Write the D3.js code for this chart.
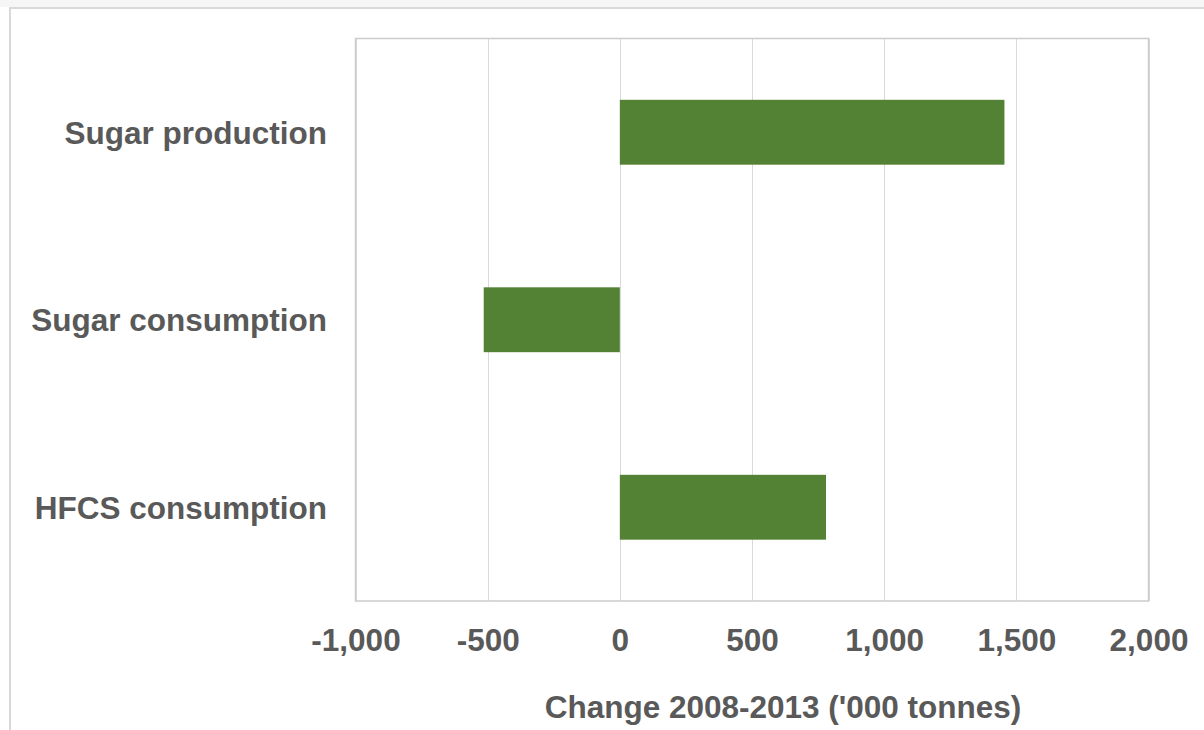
<!DOCTYPE html>
<html>
<head>
<meta charset="utf-8">
<script src="https://cdn.jsdelivr.net/npm/d3@7"></script>
<style>
  html, body { margin: 0; padding: 0; background: #fff; }
  svg { display: block; }
  text { font-family: "Liberation Sans", Arial, sans-serif; font-weight: bold; fill: #595959; }
</style>
</head>
<body>
<svg id="chart" width="1204" height="730"></svg>
<script>
// Change in sugar / HFCS volumes, 2008-2013, thousand tonnes
const categories = ["Sugar production", "Sugar consumption", "HFCS consumption"];
const changeValues = [1455, -515, 780];
const tickValues = [-1000, -500, 0, 500, 1000, 1500, 2000];
const axisTitle = "Change 2008-2013 ('000 tonnes)";

const svg = d3.select("#chart");
const W = 1204, H = 730;
const FONT_SIZE = 31.5;

// outer chart frame
svg.append("rect").attr("x", 0).attr("y", 0).attr("width", W).attr("height", 7).attr("fill", "#f6f6f6");
svg.append("path")
  .attr("d", `M10,${H} L10,8 L${W},8`)
  .attr("fill", "none").attr("stroke", "#d9d9d9").attr("stroke-width", 2);

const plot = { left: 355.5, right: 1148.5, top: 38.5, bottom: 601 };

const x = d3.scaleLinear().domain([-1000, 2000]).range([plot.left, plot.right]);
const y = d3.scaleBand().domain(categories).range([plot.top, plot.bottom])
  .paddingInner(0.654).paddingOuter(0.327);

// vertical gridlines
svg.append("g").selectAll("line").data(tickValues).join("line")
  .attr("x1", d => Math.round(x(d)) + 0.5).attr("x2", d => Math.round(x(d)) + 0.5)
  .attr("y1", plot.top).attr("y2", plot.bottom)
  .attr("stroke", "#d9d9d9").attr("stroke-width", 1);

// plot area border
svg.append("rect")
  .attr("x", plot.left).attr("y", plot.top)
  .attr("width", plot.right - plot.left).attr("height", plot.bottom - plot.top)
  .attr("fill", "none").attr("stroke", "#cccccc").attr("stroke-width", 1.5);

// bars
svg.append("g").selectAll("rect").data(categories).join("rect")
  .attr("x", (c, i) => x(Math.min(0, changeValues[i])))
  .attr("width", (c, i) => Math.abs(x(changeValues[i]) - x(0)))
  .attr("y", c => y(c))
  .attr("height", y.bandwidth())
  .attr("fill", "#548235");

// category labels
svg.append("g").selectAll("text").data(categories).join("text")
  .attr("x", 327)
  .attr("y", c => y(c) + y.bandwidth() / 2 + 11.5)
  .attr("text-anchor", "end")
  .attr("font-size", FONT_SIZE)
  .text(c => c);

// x axis tick labels (plain hyphen for negatives)
const fmt = d => d3.format(",")(d).replace("\u2212", "-");
const xAxis = d3.axisBottom(x).tickValues(tickValues).tickFormat(fmt).tickSize(0).tickPadding(0);
const ax = svg.append("g").attr("transform", `translate(0,${plot.bottom})`).call(xAxis);
ax.select(".domain").remove();
ax.selectAll("text")
  .attr("dy", null).attr("y", 50)
  .attr("font-size", FONT_SIZE)
  .style("font-family", '"Liberation Sans", Arial, sans-serif')
  .style("font-weight", "bold").style("fill", "#595959");

// axis title
svg.append("text")
  .attr("x", 783).attr("y", 718)
  .attr("text-anchor", "middle")
  .attr("font-size", FONT_SIZE)
  .text(axisTitle);
</script>
</body>
</html>
